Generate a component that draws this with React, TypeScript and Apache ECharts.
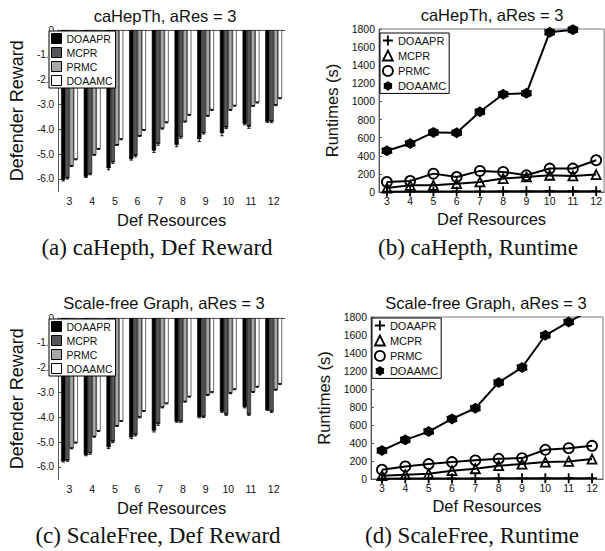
import React, { useEffect, useRef } from 'react';
import * as echarts from 'echarts';

// ---------- data ----------
const categories = ['3', '4', '5', '6', '7', '8', '9', '10', '11', '12'];
const defResources = [3, 4, 5, 6, 7, 8, 9, 10, 11, 12];
const seriesNames = ['DOAAPR', 'MCPR', 'PRMC', 'DOAAMC'];
const rewardTicks = [0, -1, -2, -3, -4, -5, -6];
const runtimeTicks = [0, 200, 400, 600, 800, 1000, 1200, 1400, 1600, 1800];

// (a) caHepTh defender reward
const caRewardDOAAPR = [-6.04, -5.91, -5.57, -5.2, -4.86, -4.63, -4.4, -4.16, -3.78, -3.69];
const caRewardMCPR = [-5.97, -5.8, -5.33, -5.07, -4.59, -4.32, -4.16, -3.93, -3.9, -3.69];
const caRewardPRMC = [-5.48, -5.03, -4.63, -4.27, -3.97, -3.69, -3.46, -3.22, -3.06, -3.03];
const caRewardDOAAMC = [-5.21, -4.79, -4.4, -4.03, -3.72, -3.42, -3.22, -3.05, -2.92, -2.75];
const caErrDOAAPR = [0.04, 0.03, 0.06, 0.04, 0.07, 0.07, 0.09, 0.1, 0.04, 0.03];
const caErrMCPR = [0.03, 0.03, 0.04, 0.04, 0.05, 0.04, 0.03, 0.04, 0.06, 0.04];
const caErrPRMC = [0.02, 0.02, 0.02, 0.02, 0.02, 0.02, 0.02, 0.02, 0.02, 0.02];
const caErrDOAAMC = [0.02, 0.02, 0.02, 0.02, 0.02, 0.02, 0.02, 0.02, 0.02, 0.02];

// (b) caHepTh runtime (s)
const caTimeDOAAPR = [4, 5, 5, 6, 6, 7, 7, 8, 8, 9];
const caTimeMCPR = [44, 74, 74, 92, 111, 148, 166, 185, 177, 192];
const caTimePRMC = [111, 122, 203, 166, 233, 222, 185, 259, 259, 351];
const caTimeDOAAMC = [455, 536, 658, 654, 887, 1079, 1090, 1763, 1793, null];

// (c) scale-free defender reward
const sfRewardDOAAPR = [-5.77, -5.52, -5.21, -4.81, -4.54, -4.17, -3.99, -3.77, -3.59, -3.7];
const sfRewardMCPR = [-5.74, -5.45, -4.98, -4.71, -4.27, -4.17, -3.98, -3.89, -3.89, -3.77];
const sfRewardPRMC = [-5.25, -4.78, -4.35, -4.0, -3.6, -3.37, -3.1, -3.03, -2.98, -2.89];
const sfRewardDOAAMC = [-5.02, -4.55, -4.15, -3.75, -3.44, -3.17, -2.99, -2.87, -2.77, -2.66];
const sfErrDOAAPR = [0.03, 0.03, 0.05, 0.05, 0.05, 0.03, 0.03, 0.03, 0.03, 0.02];
const sfErrMCPR = [0.03, 0.04, 0.04, 0.04, 0.05, 0.03, 0.03, 0.03, 0.03, 0.03];
const sfErrPRMC = [0.02, 0.02, 0.02, 0.02, 0.02, 0.02, 0.02, 0.02, 0.02, 0.02];
const sfErrDOAAMC = [0.02, 0.02, 0.02, 0.02, 0.02, 0.02, 0.02, 0.02, 0.02, 0.02];

// (d) scale-free runtime (s)
const sfTimeDOAAPR = [4, 5, 5, 6, 6, 7, 7, 8, 8, 9];
const sfTimeMCPR = [37, 48, 59, 92, 114, 148, 166, 188, 195, 221];
const sfTimePRMC = [103, 140, 166, 188, 207, 225, 232, 325, 343, 369];
const sfTimeDOAAMC = [317, 435, 527, 668, 786, 1073, 1239, 1597, 1745, 1885];

// ---------- styling ----------
const SANS = 'Liberation Sans, Arial, Helvetica, sans-serif';
const SERIF = 'Liberation Serif, Times New Roman, serif';
const TXT = '#111';
const AXIS = '#555';
const barColors = ['#000000', '#555555', '#a8a8a8', '#ffffff'];
const symPlus = 'path://M-1.1,-6H1.1V-1.1H6V1.1H1.1V6H-1.1V1.1H-6V-1.1H-1.1Z';
const symHex = 'path://M0,-10L4,-6.9L8.66,-5L8,0L8.66,5L4,6.9L0,10L-4,6.9L-8.66,5L-8,0L-8.66,-5L-4,-6.9Z';

type Layout = {
  title: string; titleX: number; titleY: number;
  caption: string; capX: number; capY: number;
  grid: { left: number; top: number; width: number; height: number };
  legendLeft: number; legendTop: number;
  yNameGap: number; xNameGap: number;
};

function textEl(text: string, x: number, y: number, size: number, family: string) {
  return {
    type: 'text', x, y, silent: true,
    style: { text, fill: TXT, fontSize: size, fontFamily: family, align: 'center', verticalAlign: 'middle' },
  };
}

function barOption(L: Layout, values: number[][], errors: number[][]) {
  const series: any[] = seriesNames.map((name, s) => ({
    name, type: 'bar', data: values[s], barGap: '0%', barCategoryGap: '26%',
    itemStyle: { color: barColors[s], borderColor: '#000', borderWidth: 0.6 },
    silent: true,
  }));
  const errData: number[][] = [];
  seriesNames.forEach((_, s) => values[s].forEach((v, i) => errData.push([i, v, errors[s][i], s])));
  series.push({
    type: 'custom', name: 'errorbars', silent: true, z: 3,
    encode: { x: 0, y: 1 },
    data: errData,
    renderItem: (params: any, api: any) => {
      const idx = api.value(0), mean = api.value(1), err = api.value(2), s = api.value(3);
      const slot = api.size([1, 0])[0];
      const bw = (slot * 0.74) / 4;
      const c = api.coord([idx, mean]);
      const x = c[0] + (s - 1.5) * bw;
      const yLo = api.coord([idx, mean - err])[1];
      const yHi = api.coord([idx, mean + err])[1];
      const cap = bw * 0.4;
      const st = { stroke: '#000', lineWidth: 0.9 };
      return {
        type: 'group', children: [
          { type: 'line', shape: { x1: x, y1: yLo, x2: x, y2: yHi }, style: st },
          { type: 'line', shape: { x1: x - cap, y1: yLo, x2: x + cap, y2: yLo }, style: st },
          { type: 'line', shape: { x1: x - cap, y1: yHi, x2: x + cap, y2: yHi }, style: st },
        ],
      };
    },
  });
  return {
    animation: false,
    grid: { ...L.grid, containLabel: false },
    legend: {
      orient: 'vertical', left: L.legendLeft, top: L.legendTop, padding: [2, 3, 2, 2],
      itemGap: 3, itemWidth: 10, itemHeight: 10, icon: 'rect',
      backgroundColor: '#fff', borderColor: '#000', borderWidth: 1, borderRadius: 0,
      textStyle: { fontSize: 10.5, color: TXT, fontFamily: SANS },
      itemStyle: { borderColor: '#000', borderWidth: 1 },
      data: seriesNames, selectedMode: false,
    },
    xAxis: {
      type: 'category', data: categories,
      name: 'Def Resources', nameLocation: 'middle', nameGap: L.xNameGap,
      nameTextStyle: { fontSize: 16.5, color: TXT, fontFamily: SANS },
      axisLine: { lineStyle: { color: AXIS, width: 1 } },
      axisTick: { inside: true, alignWithLabel: true, length: 3, lineStyle: { color: AXIS } },
      axisLabel: { fontSize: 10.5, color: TXT, fontFamily: SANS, margin: 4 },
    },
    yAxis: {
      type: 'value', min: -6.5, max: 0,
      name: 'Defender Reward', nameLocation: 'middle', nameGap: L.yNameGap,
      nameTextStyle: { fontSize: 18, color: TXT, fontFamily: SANS },
      axisLine: { show: true, lineStyle: { color: AXIS, width: 1 } },
      axisTick: { show: true, inside: true, length: 3, customValues: rewardTicks, lineStyle: { color: AXIS } },
      axisLabel: {
        fontSize: 10, color: TXT, fontFamily: SANS, margin: 4, customValues: rewardTicks,
        formatter: (v: number) => (v === 0 ? '0' : v.toFixed(1)),
      },
      splitLine: { show: false },
    },
    graphic: [
      textEl(L.title, L.titleX, L.titleY, 16.5, SANS),
      textEl(L.caption, L.capX, L.capY, 23, SERIF),
    ],
    series,
  };
}

function lineOption(L: Layout, xMin: number, xMax: number, values: (number | null)[][]) {
  const transparent = 'rgba(0,0,0,0)';
  const symbolDefs = [
    { symbol: symPlus, size: 10, itemStyle: { color: '#000', borderWidth: 0 } },
    { symbol: 'triangle', size: 9, itemStyle: { color: transparent, borderColor: '#000', borderWidth: 1.8 } },
    { symbol: 'circle', size: 10, itemStyle: { color: transparent, borderColor: '#000', borderWidth: 1.8 } },
    { symbol: symHex, size: 11, itemStyle: { color: '#000', borderWidth: 0 } },
  ];
  const series = seriesNames.map((name, s) => ({
    name, type: 'line', silent: true,
    data: defResources.map((x, i) => [x, values[s][i]]),
    symbol: symbolDefs[s].symbol, symbolSize: symbolDefs[s].size, showAllSymbol: true,
    itemStyle: symbolDefs[s].itemStyle,
    lineStyle: { color: '#000', width: 2 },
    clip: true,
  }));
  const xCommon = {
    type: 'value', min: xMin, max: xMax, gridIndex: 0,
    splitLine: { show: false },
  };
  return {
    animation: false,
    grid: { ...L.grid, containLabel: false, show: true, borderColor: '#777', borderWidth: 1 },
    legend: {
      orient: 'vertical', left: L.legendLeft, top: L.legendTop, padding: [2, 3, 2, 2],
      itemGap: 3.6, itemWidth: 10, itemHeight: 10,
      backgroundColor: '#fff', borderColor: '#000', borderWidth: 1, borderRadius: 0,
      textStyle: { fontSize: 11, color: TXT, fontFamily: SANS },
      selectedMode: false,
      data: seriesNames.map((name, s) => ({ name, icon: symbolDefs[s].symbol, itemStyle: symbolDefs[s].itemStyle })),
    },
    xAxis: [
      {
        ...xCommon, position: 'bottom',
        name: 'Def Resources', nameLocation: 'middle', nameGap: L.xNameGap,
        nameTextStyle: { fontSize: 16.5, color: TXT, fontFamily: SANS },
        axisLine: { show: true, onZero: false, lineStyle: { color: AXIS, width: 1 } },
        axisTick: { show: true, inside: true, length: 3, customValues: defResources, lineStyle: { color: AXIS } },
        axisLabel: { fontSize: 10.5, color: TXT, fontFamily: SANS, margin: 3, customValues: defResources },
      },
      {
        ...xCommon, position: 'top',
        axisLine: { show: false },
        axisTick: { show: true, inside: true, length: 3, customValues: defResources, lineStyle: { color: '#777' } },
        axisLabel: { show: false },
      },
    ],
    yAxis: {
      type: 'value', min: 0, max: 1800, interval: 200,
      name: 'Runtimes (s)', nameLocation: 'middle', nameGap: L.yNameGap,
      nameTextStyle: { fontSize: 16.5, color: TXT, fontFamily: SANS },
      axisLine: { show: true, lineStyle: { color: AXIS, width: 1 } },
      axisTick: { show: true, inside: true, length: 3, lineStyle: { color: AXIS } },
      axisLabel: {
        fontSize: 10.5, color: TXT, fontFamily: SANS, margin: 4, customValues: runtimeTicks,
        formatter: (v: number) => String(v),
      },
      splitLine: { show: false },
    },
    graphic: [
      textEl(L.title, L.titleX, L.titleY, 16.5, SANS),
      textEl(L.caption, L.capX, L.capY, 23, SERIF),
    ],
    series,
  };
}

const layoutA: Layout = {
  title: 'caHepTh, aRes = 3', titleX: 165, titleY: 16,
  caption: '(a) caHepth, Def Reward', capX: 157, capY: 247,
  grid: { left: 47, top: 30, width: 238, height: 161.4 },
  legendLeft: 49, legendTop: 31, yNameGap: 23, xNameGap: 18,
};
const layoutB: Layout = {
  title: 'caHepTh, aRes = 3', titleX: 190, titleY: 15,
  caption: '(b) caHepth, Runtime', capX: 176, capY: 247,
  grid: { left: 77, top: 29, width: 227, height: 163 },
  legendLeft: 78, legendTop: 33, yNameGap: 31, xNameGap: 17,
};
const layoutC: Layout = {
  title: 'Scale-free Graph, aRes = 3', titleX: 164, titleY: 41,
  caption: '(c) ScaleFree, Def Reward', capX: 158, capY: 273,
  grid: { left: 47, top: 56, width: 238, height: 161.4 },
  legendLeft: 49, legendTop: 57, yNameGap: 23, xNameGap: 18,
};
const layoutD: Layout = {
  title: 'Scale-free Graph, aRes = 3', titleX: 184, titleY: 40.5,
  caption: '(d) ScaleFree, Runtime', capX: 170, capY: 273,
  grid: { left: 69, top: 55, width: 232, height: 162 },
  legendLeft: 70, legendTop: 56, yNameGap: 28, xNameGap: 18,
};

function Panel({ option, left, top, width, height }: any) {
  const ref = useRef<HTMLDivElement>(null);
  useEffect(() => {
    if (!ref.current) return;
    const chart = echarts.init(ref.current, undefined, { renderer: 'svg' });
    chart.setOption(option);
    return () => chart.dispose();
  }, [option]);
  return <div ref={ref} style={{ position: 'absolute', left, top, width, height }} />;
}

const optA = barOption(layoutA,
  [caRewardDOAAPR, caRewardMCPR, caRewardPRMC, caRewardDOAAMC],
  [caErrDOAAPR, caErrMCPR, caErrPRMC, caErrDOAAMC]);
const optB = lineOption(layoutB, 2.66, 12.34, [caTimeDOAAPR, caTimeMCPR, caTimePRMC, caTimeDOAAMC]);
const optC = barOption(layoutC,
  [sfRewardDOAAPR, sfRewardMCPR, sfRewardPRMC, sfRewardDOAAMC],
  [sfErrDOAAPR, sfErrMCPR, sfErrPRMC, sfErrDOAAMC]);
const optD = lineOption(layoutD, 2.53, 12.47, [sfTimeDOAAPR, sfTimeMCPR, sfTimePRMC, sfTimeDOAAMC]);

export default function App() {
  return (
    <div style={{ position: 'absolute', left: 0, top: 0, width: 605, height: 551, background: '#fff', overflow: 'hidden' }}>
      <Panel option={optA} left={0} top={0} width={302} height={262} />
      <Panel option={optB} left={302} top={0} width={303} height={262} />
      <Panel option={optC} left={0} top={262} width={302} height={289} />
      <Panel option={optD} left={302} top={262} width={303} height={289} />
    </div>
  );
}
